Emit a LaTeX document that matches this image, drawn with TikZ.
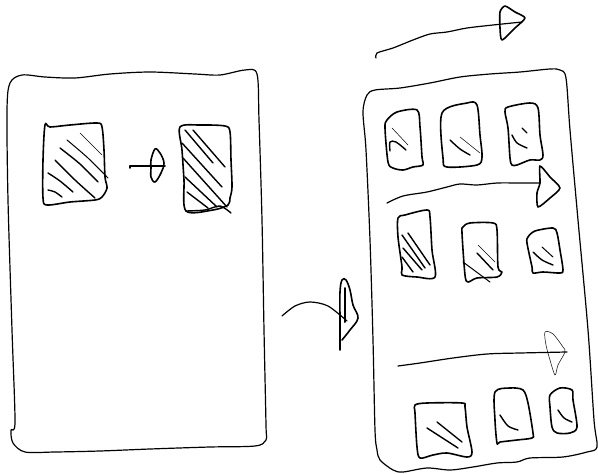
\documentclass[tikz,border=0pt]{standalone}
\usepackage{amsmath}

\begin{document}
\begin{tikzpicture}[x=1pt,y=-1pt,line width=1.6pt,line cap=round,line join=round,
  frame/.style={line width=1.2pt},
  hatch/.style={line width=1.4pt},
  faint/.style={line width=0.5pt}]
\useasboundingbox (0,0) rectangle (598,474);
% 左侧手机轮廓
\draw[frame] plot[smooth cycle,tension=0.5] coordinates {(10,83) (22,75) (45,77) (75,78) (110,74) (150,72)
  (195,74) (220,75) (245,70) (257,74) (259,120) (262,220) (264,330) (266,425) (266,440) (255,446)
  (210,447) (150,449) (100,451) (55,452) (25,452) (13,443) (11,430) (15,422) (12,330) (8,200) (7,110)};
% 左侧卡片 1
\draw plot[smooth cycle,tension=0.5] coordinates {(45,125) (50,127) (70,125) (97,123) (102,127)
  (104,150) (105,177) (107,188) (102,197) (95,200) (70,202) (47,205) (43,198) (43,160)};
\draw[hatch] plot[smooth] coordinates {(48,190) (55,192) (62,197)};
\draw[hatch] plot[smooth] coordinates {(48,173) (60,181) (73,192)};
\draw[hatch] plot[smooth] coordinates {(55,160) (75,180) (95,198)};
\draw[hatch] plot[smooth] coordinates {(60,148) (80,164) (98,182)};
\draw[line width=1pt] plot[smooth] coordinates {(67,140) (88,158) (108,178)};
\draw[faint] (80,133) -- (102,155);
% 左侧箭头
\draw (130,168) -- (130,166) -- (165,166);
\draw plot[smooth cycle,tension=0.6] coordinates {(151,160) (155,149) (160,153) (164,163) (161,173)
  (155,182) (151,177) (151,168)};
% 左侧卡片 2
\draw plot[smooth cycle,tension=0.5] coordinates {(180,127) (200,125) (225,126) (230,132) (231,160)
  (232,187) (230,198) (228,205) (213,210) (186,211) (184,180) (182,150)};
\draw[hatch] (185,130) -- (213,163);
\draw[hatch] (193,130) -- (225,167);
\draw[hatch] (182,143) -- (222,187);
\draw[hatch] (183,158) -- (227,207);
\draw[hatch] (185,177) -- (217,207);
\draw[hatch] (187,192) -- (208,208);
\draw[hatch] plot[smooth] coordinates {(186,211) (205,210) (220,206) (231,213)};
% 过渡箭头
\draw[line width=1.2pt] plot[smooth] coordinates {(282,316) (295,306) (310,302) (328,306) (347,321)};
\draw plot[smooth,tension=0.6] coordinates {(340,350) (340,320) (340,292) (342,280) (346,280)
  (350,290) (353,305) (358,318) (350,330) (342,340)};
\draw[line width=2pt] (345,288) -- (345,322);
% 右侧手机轮廓
\draw[frame] plot[smooth cycle,tension=0.5] coordinates {(367,95) (375,90) (400,88) (430,83) (460,77)
  (490,74) (520,72) (550,69) (560,70) (566,78) (570,130) (578,220) (588,330) (594,420) (597,447)
  (587,452) (563,457) (530,458) (517,462) (497,463) (473,467) (450,470) (427,468) (403,472)
  (393,470) (380,460) (377,450) (375,430) (373,340) (370,240) (366,150) (363,112)};
% 顶部箭头
\draw[line width=1.2pt] plot[smooth] coordinates {(376,58) (377,53) (393,48) (413,40) (430,34)
  (447,32) (467,28) (493,25) (522,22)};
\draw plot[smooth cycle,tension=0.4] coordinates {(500,12) (505,6) (515,12) (525,18) (515,28)
  (502,40) (500,28)};
% 第一行卡片
\draw plot[smooth cycle,tension=0.5] coordinates {(387,120) (397,112) (417,110) (420,127) (422,157)
  (423,165) (413,167) (403,170) (393,168) (388,162) (385,128)};
\draw[hatch] plot[smooth] coordinates {(390,151) (390,142) (396,142) (406,150)};
\draw[faint] (392,128) -- (408,145);
\draw plot[smooth cycle,tension=0.5] coordinates {(442,113) (467,103) (477,105) (480,135) (482,157)
  (477,165) (447,167) (443,158)};
\draw[hatch] plot[smooth] coordinates {(450,140) (460,149) (470,155)};
\draw[faint] (460,137) -- (480,153);
\draw plot[smooth cycle,tension=0.5] coordinates {(505,112) (508,107) (530,103) (538,108) (540,135)
  (543,155) (540,160) (530,160) (517,165) (512,165) (510,158) (508,128)};
\draw[hatch] plot[smooth] coordinates {(512,135) (517,143) (527,148)};
\draw[hatch] (522,128) -- (527,133);
% 第一行箭头
\draw[line width=1.2pt] plot[smooth] coordinates {(387,203) (403,196) (427,192) (447,187) (460,184)
  (477,185) (497,183) (520,183) (540,183)};
\draw plot[smooth cycle,tension=0.4] coordinates {(540,166) (550,177) (560,188) (550,198) (538,207)
  (537,193) (540,183)};
% 第二行卡片
\draw plot[smooth cycle,tension=0.5] coordinates {(398,218) (405,215) (427,210) (430,217) (432,250)
  (435,277) (417,277) (402,275) (402,267) (398,237)};
\draw[hatch] (402,235) -- (425,268);
\draw[hatch] (408,233) -- (430,265);
\draw[hatch] (403,248) -- (422,270);
\draw[hatch] (402,257) -- (413,272);
\draw plot[smooth cycle,tension=0.5] coordinates {(463,227) (470,223) (493,223) (497,230) (498,267)
  (502,272) (497,277) (477,278) (468,282) (465,275) (462,233)};
\draw[hatch] (477,253) -- (493,270);
\draw[faint] (478,245) -- (495,262);
\draw[line width=1pt] (463,262) -- (490,282);
\draw plot[smooth cycle,tension=0.5] coordinates {(528,237) (535,231) (553,228) (557,233) (560,250)
  (563,270) (560,273) (543,272) (533,273) (532,267) (527,243)};
\draw[hatch] plot[smooth] coordinates {(533,252) (542,260) (553,265)};
\draw[line width=1pt] (542,247) -- (553,257);
% 第三行箭头
\draw[line width=1.2pt] plot[smooth] coordinates {(398,366) (420,363) (453,358) (487,354) (520,353)
  (567,352)};
\draw[faint] plot[smooth cycle,tension=0.5] coordinates {(545,332) (553,334) (563,347) (565,352)
  (558,365) (555,375) (550,360) (546,345)};
% 第四行卡片
\draw plot[smooth cycle,tension=0.5] coordinates {(415,405) (427,403) (462,403) (465,407) (467,427)
  (472,452) (467,457) (447,453) (433,455) (420,458) (417,447) (415,413)};
\draw[hatch] (427,428) -- (458,448);
\draw[hatch] (437,422) -- (462,442);
\draw plot[smooth cycle,tension=0.5] coordinates {(495,392) (510,388) (523,390) (528,403) (533,433)
  (532,438) (517,440) (500,442) (497,443) (495,420)};
\draw[hatch] plot[smooth] coordinates {(500,415) (508,426) (518,430)};
\draw plot[smooth cycle,tension=0.5] coordinates {(550,395) (560,388) (572,390) (573,400) (577,427)
  (570,433) (557,433) (552,427) (550,407)};
\draw[hatch] plot[smooth] coordinates {(558,410) (564,418) (572,422)};
\end{tikzpicture}
\end{document}
